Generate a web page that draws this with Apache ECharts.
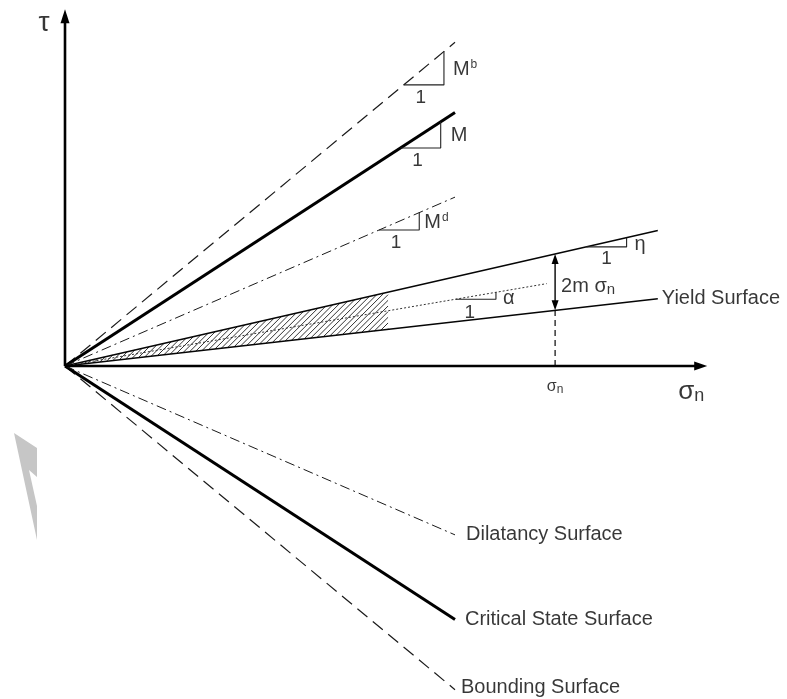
<!DOCTYPE html>
<html>
<head>
<meta charset="utf-8">
<script src="https://cdn.jsdelivr.net/npm/echarts@6/dist/echarts.min.js"></script>
<style>
  html, body { margin: 0; padding: 0; background: #ffffff; }
  #chart { width: 787px; height: 699px; }
</style>
</head>
<body>
<div id="chart"></div>
<script>
// Surfaces in the (sigma_n, tau) plane: every surface is a pair of rays through the origin.
const surfaceNames = ['Bounding Surface', 'Critical State Surface', 'Dilatancy Surface'];
const surfaceSlopes = [0.83, 0.65, 0.433];          // M^b, M, M^d
const slopeSymbols = ['M', 'M', 'M'];
const slopeSuperscripts = ['b', '', 'd'];
const surfaceReach = [6.0, 6.0, 6.0];               // sigma_n where each ray stops
const triangleCorners = [5.83, 5.78, 5.45];          // sigma_n at the right corner of each slope triangle
const triangleRun = 0.62;                            // horizontal leg ("1") of the slope triangles

// Yield wedge: centre line of slope alpha, opening +/- m
const alpha = 0.171;
const m = 0.0575;
const yieldReach = 9.12;
const alphaReach = 7.41;
const hatchReach = 4.97;
const sigmaMark = 7.54;
const etaCorner = 8.64;
const alphaCorner = 6.63;

// Axis tips
const tauTip = 5.49;
const sigmaTip = 9.88;

// ---- styling / layout (not data) ----
const UNIT_PX = 65;
const FONT = '"Liberation Sans", Arial, sans-serif';
const INK = '#050505';
const surfaceStyles = [
  { color: '#1a1a1a', width: 1.2, type: [13, 7] },
  { color: '#000', width: 3, type: 'solid' },
  { color: '#1a1a1a', width: 1, type: [10, 4, 2, 4] }
];
const slopeLabelGap = [9, 10, 5];

const series = [];

// hatched band inside the yield wedge
function hatchItem(params, api) {
  const up = alpha + m, lo = alpha - m;
  const step = 4 * Math.SQRT2 / UNIT_PX;
  const kMin = (lo - 1) * hatchReach;
  const children = [];
  for (let k = -step / 2; k > kMin; k -= step) {
    const x1 = -k / (1 - lo);
    if (x1 >= hatchReach) continue;
    const x2 = Math.min(-k / (1 - up), hatchReach);
    const p1 = api.coord([x1, x1 + k]);
    const p2 = api.coord([x2, x2 + k]);
    children.push({
      type: 'line',
      shape: { x1: p1[0], y1: p1[1], x2: p2[0], y2: p2[1] },
      style: { stroke: '#333', lineWidth: 1 }
    });
  }
  return { type: 'group', children };
}
series.push({
  type: 'custom', name: 'hatch', z: 1, silent: true,
  renderItem: hatchItem, data: [[0, 0]]
});

function ray(name, slope, reach, style, z) {
  return {
    type: 'line', name, z: z || 3, silent: true, symbol: 'none', clip: false,
    data: [[0, 0], [reach, slope * reach]],
    lineStyle: { color: style.color, width: style.width, type: style.type }
  };
}

// upper and lower rays of the three surfaces
surfaceNames.forEach((n, i) => {
  series.push(ray(n + ' +', surfaceSlopes[i], surfaceReach[i], surfaceStyles[i]));
  series.push(ray(n + ' -', -surfaceSlopes[i], surfaceReach[i], surfaceStyles[i]));
});

// yield surface (two rays) and its centre line
series.push(ray('yield upper', alpha + m, yieldReach, { color: INK, width: 1.4, type: 'solid' }));
series.push(ray('yield lower', alpha - m, yieldReach, { color: INK, width: 1.4, type: 'solid' }));
series.push(ray('alpha', alpha, alphaReach, { color: '#333', width: 1, type: [2, 2] }));

// slope triangles
function triangle(name, slope, corner) {
  const start = corner - triangleRun;
  return {
    type: 'line', name, z: 3, silent: true, symbol: 'none', clip: false,
    data: [[start, slope * start], [corner, slope * start], [corner, slope * corner]],
    lineStyle: { color: '#222', width: 1.1 }
  };
}
surfaceSlopes.forEach((s, i) => series.push(triangle('tri' + i, s, triangleCorners[i])));
series.push(triangle('tri eta', alpha + m, etaCorner));
series.push(triangle('tri alpha', alpha, alphaCorner));

// dashed guide from the sigma_n axis up to the yield surface
series.push({
  type: 'line', name: 'guide', z: 3, silent: true, symbol: 'none',
  data: [[sigmaMark, 0], [sigmaMark, (alpha - m) * sigmaMark]],
  lineStyle: { color: INK, width: 1.2, type: [6, 4] }
});

// axes and the 2m sigma_n dimension arrow
const arrowData = [
  [0, 0, 0, tauTip, 0],
  [0, 0, sigmaTip, 0, 0],
  [sigmaMark, (alpha - m) * sigmaMark, sigmaMark, (alpha + m) * sigmaMark, 1]
];
const arrowStyles = [
  { width: 2.6, head: 14, half: 4.5 },
  { width: 2.6, head: 13, half: 4.5 },
  { width: 1.4, head: 10, half: 3.5 }
];
function arrowItem(params, api) {
  const st = arrowStyles[params.dataIndex];
  const a = api.coord([api.value(0), api.value(1)]);
  const b = api.coord([api.value(2), api.value(3)]);
  const both = api.value(4) === 1;
  const dx = b[0] - a[0], dy = b[1] - a[1];
  const len = Math.hypot(dx, dy);
  const ux = dx / len, uy = dy / len;
  const head = (tip, dirx, diry) => {
    const bx = tip[0] - dirx * st.head, by = tip[1] - diry * st.head;
    const nx = -diry * st.half, ny = dirx * st.half;
    return {
      type: 'polygon',
      shape: { points: [[tip[0], tip[1]], [bx + nx, by + ny], [bx - nx, by - ny]] },
      style: { fill: '#000' }
    };
  };
  const s0 = both ? [a[0] + ux * st.head * 0.8, a[1] + uy * st.head * 0.8] : a;
  const s1 = [b[0] - ux * st.head * 0.8, b[1] - uy * st.head * 0.8];
  const children = [{
    type: 'line',
    shape: { x1: s0[0], y1: s0[1], x2: s1[0], y2: s1[1] },
    style: { stroke: '#000', lineWidth: st.width }
  }, head(b, ux, uy)];
  if (both) children.push(head(a, -ux, -uy));
  return { type: 'group', children };
}
series.push({
  type: 'custom', name: 'arrows', z: 5, silent: true,
  renderItem: arrowItem, data: arrowData,
  encode: { x: [0, 2], y: [1, 3] }
});

// text annotations
const labels = [];
function addLabel(x, y, formatter, opts) {
  labels.push({
    value: [x, y],
    label: Object.assign({
      show: true, formatter, color: INK, fontFamily: FONT, fontSize: 20,
      align: 'left', verticalAlign: 'middle'
    }, opts)
  });
}
const rich = {
  big: { fontSize: 20, fontFamily: FONT, color: INK },
  sup: { fontSize: 12, fontFamily: FONT, color: INK, padding: [0, 0, 10, 1] },
  sig: { fontSize: 20, fontFamily: FONT, color: INK },
  sub: { fontSize: 15, fontFamily: FONT, color: INK, padding: [7, 0, 0, 0] },
  sigL: { fontSize: 26, fontFamily: FONT, color: INK },
  subL: { fontSize: 18, fontFamily: FONT, color: INK, padding: [9, 0, 0, 0] },
  sigS: { fontSize: 16, fontFamily: FONT, color: INK },
  subS: { fontSize: 12, fontFamily: FONT, color: INK, padding: [5, 0, 0, 0] }
};

addLabel(0, tauTip, 'τ', { position: [-21, 14], align: 'center', fontSize: 28, fontFamily: FONT });
addLabel(sigmaTip, 0, '{sigL|σ}{subL|n}', { position: [-29, 26], rich });
addLabel(sigmaMark, 0, '{sigS|σ}{subS|n}', { position: [0, 21], align: 'center', rich });
addLabel(sigmaMark, alpha * sigmaMark, '{sig|2m σ}{sub|n}', { position: [6, 4], rich });
addLabel(yieldReach, (alpha - m) * yieldReach, 'Yield Surface', { position: [4, 0] });

const nameGaps = [[6, -2], [10, 0], [11, 0]];
surfaceNames.forEach((n, i) => {
  addLabel(surfaceReach[i], -surfaceSlopes[i] * surfaceReach[i], n, { position: nameGaps[i] });
});

surfaceSlopes.forEach((s, i) => {
  const c = triangleCorners[i], st = c - triangleRun;
  const sup = slopeSuperscripts[i] ? '{sup|' + slopeSuperscripts[i] + '}' : '';
  addLabel(c, s * (c + st) / 2, '{big|' + slopeSymbols[i] + '}' + sup, { position: [slopeLabelGap[i], 1], rich });
  addLabel(st + triangleRun / 2, s * st, '1', { position: [-3, 13], align: 'center', fontSize: 19 });
});
{
  const s = alpha + m, c = etaCorner, st = c - triangleRun;
  addLabel(c, s * (c + st) / 2, 'η', { position: [8, 2], fontSize: 20 });
  addLabel(st + triangleRun / 2, s * st, '1', { position: [0, 12], align: 'center', fontSize: 19 });
}
{
  const s = alpha, c = alphaCorner, st = c - triangleRun;
  addLabel(c, s * (c + st) / 2, 'α', { position: [7, 3], fontSize: 20 });
  addLabel(st + triangleRun / 2, s * st, '1', { position: [-6, 14], align: 'center', fontSize: 19 });
}

series.push({
  type: 'scatter', name: 'labels', z: 6, silent: true, clip: false,
  symbolSize: 0, data: labels
});

const chart = echarts.init(document.getElementById('chart'), null, { renderer: 'canvas' });
chart.setOption({
  animation: false,
  backgroundColor: '#ffffff',
  grid: { left: 0, right: 7, top: 2, bottom: 1.5 },
  xAxis: { type: 'value', min: -1, max: 11, show: false },
  yAxis: { type: 'value', min: -5.1, max: 5.6, show: false },
  graphic: [{
    type: 'polygon', silent: true, z: 0,
    shape: { points: [[14, 433], [37, 448], [37, 477], [29, 470], [37, 506], [37, 540]] },
    style: { fill: '#c6c6c6' }
  }],
  series
});
</script>
</body>
</html>
